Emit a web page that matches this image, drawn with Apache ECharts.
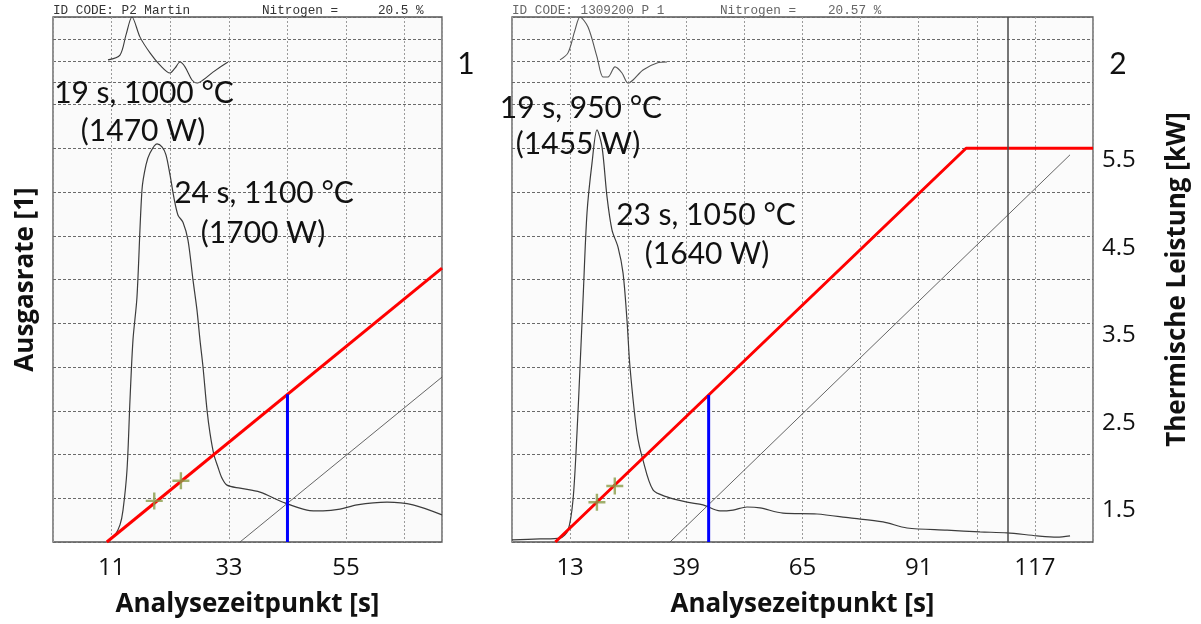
<!DOCTYPE html>
<html>
<head>
<meta charset="utf-8">
<script src="https://cdn.jsdelivr.net/npm/echarts@6/dist/echarts.min.js"></script>
<style>
  html, body { margin: 0; padding: 0; background: #ffffff; }
  #chart { width: 1201px; height: 624px; }
</style>
</head>
<body>
<div id="chart"></div>
<script>
// ---------- Panel 1 (ID CODE: P2 Martin) ----------
const p1TimeTicks = [11, 33, 55];
// outgassing rate trace [time s, rate in grid units]
const p1Rate = [[10.13,0],[11.63,0.16],[12.57,0.39],[13.14,0.73],[13.89,1.65],[14.45,3.25],[15.01,4.62],
  [15.76,5.6],[16.7,8.05],[17.45,8.62],[18.2,8.89],[19.52,9.1],[20.45,9.03],[21.2,8.85],[21.96,8.39],
  [22.71,7.86],[23.46,7.47],[24.39,7.31],[25.33,6.9],[26.27,5.99],[27.02,5.3],[27.58,4.62],[28.15,4.0],
  [28.9,3.02],[29.46,2.49],[30.21,1.99],[30.96,1.71],[31.71,1.46],[32.65,1.3],[35.09,1.23],[38.84,1.14],
  [43.16,0.91],[47.66,0.73],[50.67,0.71],[53.86,0.75],[57.05,0.85],[62.68,0.91],[67.55,0.85],[73.0,0.62]];
// derivative trace in the upper strip
const p1Deriv = [[10.32,11.02],[12.57,11.13],[13.7,11.59],[14.82,12.0],[16.33,11.54],[18.2,11.18],[20.08,10.9],
  [21.96,10.72],[22.89,10.83],[23.83,10.97],[24.77,10.86],[26.08,10.56],[27.02,10.49],[28.15,10.56],
  [30.02,10.74],[32.84,10.97]];
const p1TempRamp = [[35.09,0],[73.0,3.77]];
// thermal power [time s, kW]
const p1PowerRamp = [[10.1,1.0],[73.0,4.13]];
const p1Marker = [[44,1.0],[44,2.69]];
const p1Times = [19, 24];
const p1Temps = [1000, 1100];
const p1Watts = [1470, 1700];

// ---------- Panel 2 (ID CODE: 1309200 P 1) ----------
const p2TimeTicks = [13, 39, 65, 91, 117];
const p2Rate = [[0,0.05],[6.27,0.07],[10.74,0.09],[12.53,0.27],[13.65,0.96],[14.54,2.49],[15.22,4.0],
  [15.89,5.53],[16.78,7.52],[17.9,8.66],[19.02,9.42],[20.14,9.03],[21.26,7.89],[22.38,7.13],[23.72,6.74],
  [24.84,6.15],[25.73,5.07],[26.4,4.0],[27.97,2.49],[29.31,1.87],[31.55,1.19],[34.68,1.03],[39.16,0.91],
  [42.74,0.85],[46.54,0.71],[49.45,0.73],[52.58,0.8],[55.49,0.78],[60.64,0.66],[68.25,0.64],[75.63,0.55],
  [83.02,0.46],[88.39,0.32],[97.34,0.27],[104.72,0.23],[110.76,0.21],[117.48,0.14],[121.95,0.11],[124.86,0.14]];
const p2Deriv = [[10.74,11.02],[12.53,11.18],[14.1,11.7],[15.22,12.0],[17.01,11.77],[19.02,11.09],[20.36,10.63],
  [21.48,10.63],[23.05,10.86],[24.61,10.72],[25.95,10.49],[27.08,10.56],[29.31,10.79],[32.45,10.95],[34.68,10.97]];
const p2TempRamp = [[35.35,0],[124.86,8.85]];
const p2PowerRamp = [[9.7,1.0],[101.6,5.5],[130,5.5]];
const p2Marker = [[44,1.0],[44,2.68]];
const p2Times = [19, 23];
const p2Temps = [950, 1050];
const p2Watts = [1455, 1640];

const powerTicks = [1.5, 2.5, 3.5, 4.5, 5.5];
const stripLines = [10.5, 11.5];   // finer rulings of the derivative strip
const scanFold = 111;              // dark fold line on sheet 2

// ---------- styling helpers ----------
const INK = '#3c3c3c';
const FRAME = '#555555';
const crossPath = 'path://M6,0H8V6H14V8H8V14H6V8H0V6H6Z';
const tickFont = { fontFamily: 'Open Sans', fontSize: 24, color: '#111' };
const nameFont = { fontFamily: 'Open Sans', fontSize: 26, fontWeight: 'bold', color: '#111' };

function timeAxis(grid, max, interval, ticks) {
  return {
    type: 'value', gridIndex: grid, min: 0, max: max, interval: interval,
    axisLine: { show: false }, axisTick: { show: false },
    axisLabel: Object.assign({ margin: 14,
      formatter: v => ticks.indexOf(v) >= 0 ? String(v) : '' }, tickFont),
    splitLine: { show: true, lineStyle: { color: '#9a9a9a', type: [2, 2], width: 1 } },
    name: 'Analysezeitpunkt [s]', nameLocation: 'middle', nameGap: 50,
    nameTextStyle: nameFont
  };
}
function rateAxis(grid, withName) {
  return {
    type: 'value', gridIndex: grid, min: 0, max: 12, interval: 1, position: 'left',
    axisLine: { show: false }, axisTick: { show: false }, axisLabel: { show: false },
    splitLine: { show: true, lineStyle: { color: '#6a6a6a', type: [3, 2], width: 1 } },
    name: withName ? 'Ausgasrate [1]' : '', nameLocation: 'middle', nameGap: 14,
    nameTextStyle: nameFont
  };
}
function powerAxis(grid, visible) {
  return {
    type: 'value', gridIndex: grid, min: 1, max: 7, interval: 0.5, position: 'right',
    show: visible,
    axisLine: { show: false }, axisTick: { show: false },
    axisLabel: Object.assign({ margin: 9, verticalAlign: 'top',
      formatter: v => powerTicks.indexOf(v) >= 0 ? v.toFixed(1) : '' }, tickFont),
    splitLine: { show: false },
    name: visible ? 'Thermische Leistung [kW]' : '', nameLocation: 'middle', nameGap: 72,
    nameTextStyle: nameFont
  };
}
function trace(x, y, data, width, color, extra) {
  return Object.assign({ type: 'line', xAxisIndex: x, yAxisIndex: y, data: data, showSymbol: false,
    symbol: 'none', silent: true, lineStyle: { color: color, width: width } }, extra || {});
}
function crosses(x, y, times, watts) {
  return { type: 'scatter', xAxisIndex: x, yAxisIndex: y, symbol: crossPath, symbolSize: 17,
    itemStyle: { color: '#8a9c48' }, silent: true, z: 6,
    data: times.map((t, i) => [t, watts[i] / 1000]) };
}
function stripMarks() {
  return { silent: true, symbol: ['none', 'none'], label: { show: false },
    lineStyle: { color: '#6a6a6a', type: [3, 2], width: 1 },
    data: stripLines.map(v => ({ yAxis: v })) };
}

// annotation texts are built from the same values as the cross marks
function notes(times, temps, watts, pos) {
  const out = [];
  times.forEach((t, i) => {
    out.push(textEl(pos[i][0], pos[i][1], t + ' s, ' + temps[i] + ' °C', 30, 'Lato', '#111'));
    out.push(textEl(pos[i][2], pos[i][3], '(' + watts[i] + ' W)', 30, 'Lato', '#111'));
  });
  return out;
}
function textEl(x, y, text, size, family, color, align) {
  return { type: 'text', x: x, y: y, silent: true, z: 100,
    style: { text: text, fontSize: size, fontFamily: family, fill: color,
      align: align || 'center', verticalAlign: 'middle',
      textAlign: align || 'center', textVerticalAlign: 'middle' } };
}

const chart = echarts.init(document.getElementById('chart'), null, { renderer: 'canvas' });
chart.setOption({
  backgroundColor: '#ffffff',
  animation: false,
  grid: [
    { left: 53, top: 17, width: 389, height: 525, show: true, borderColor: FRAME, borderWidth: 1.3, backgroundColor: '#fafafa' },
    { left: 512, top: 17, width: 581, height: 525, show: true, borderColor: FRAME, borderWidth: 1.3, backgroundColor: '#fbfbfb' }
  ],
  xAxis: [ timeAxis(0, 73, 11, p1TimeTicks), timeAxis(1, 130, 13, p2TimeTicks) ],
  yAxis: [ rateAxis(0, true), powerAxis(0, false), rateAxis(1, false), powerAxis(1, true) ],
  series: [
    // sheet 1
    trace(0, 0, p1Deriv, 1.1, INK, { smooth: 0.3, markLine: stripMarks() }),
    trace(0, 0, p1Rate, 1.2, INK, { smooth: 0.3 }),
    trace(0, 0, p1TempRamp, 0.9, '#555'),
    trace(0, 1, p1PowerRamp, 3, '#ff0000', { z: 4 }),
    trace(0, 1, p1Marker, 3, '#0000ff', { z: 5 }),
    crosses(0, 1, p1Times, p1Watts),
    // sheet 2
    trace(1, 2, p2Deriv, 1.1, '#555', { smooth: 0.3, markLine: stripMarks() }),
    trace(1, 2, p2Rate, 1.2, INK, { smooth: 0.3,
      markLine: { silent: true, symbol: ['none', 'none'], label: { show: false },
        lineStyle: { color: '#4a4a4a', type: 'solid', width: 1.5 }, data: [{ xAxis: scanFold }] } }),
    trace(1, 2, p2TempRamp, 0.9, '#555'),
    trace(1, 3, p2PowerRamp, 3, '#ff0000', { z: 4 }),
    trace(1, 3, p2Marker, 3, '#0000ff', { z: 5 }),
    crosses(1, 3, p2Times, p2Watts)
  ],
  graphic: [].concat(
    notes(p1Times, p1Temps, p1Watts, [[144, 93, 143, 131], [264, 193, 263, 233]]),
    notes(p2Times, p2Temps, p2Watts, [[581, 108, 578, 144], [706, 215, 707, 254]]),
    [
      textEl(466, 64, '1', 30, 'Lato', '#111'),
      textEl(1118, 64, '2', 30, 'Lato', '#111'),
      textEl(53, 11, 'ID CODE: P2 Martin', 12.7, 'Liberation Mono', '#333', 'left'),
      textEl(262, 11, 'Nitrogen =', 12.7, 'Liberation Mono', '#333', 'left'),
      textEl(378, 11, '20.5 %', 12.7, 'Liberation Mono', '#333', 'left'),
      textEl(512, 11, 'ID CODE: 1309200 P 1', 12.7, 'Liberation Mono', '#666', 'left'),
      textEl(720, 11, 'Nitrogen =', 12.7, 'Liberation Mono', '#666', 'left'),
      textEl(828, 11, '20.57 %', 12.7, 'Liberation Mono', '#666', 'left')
    ]
  )
});
</script>
</body>
</html>
